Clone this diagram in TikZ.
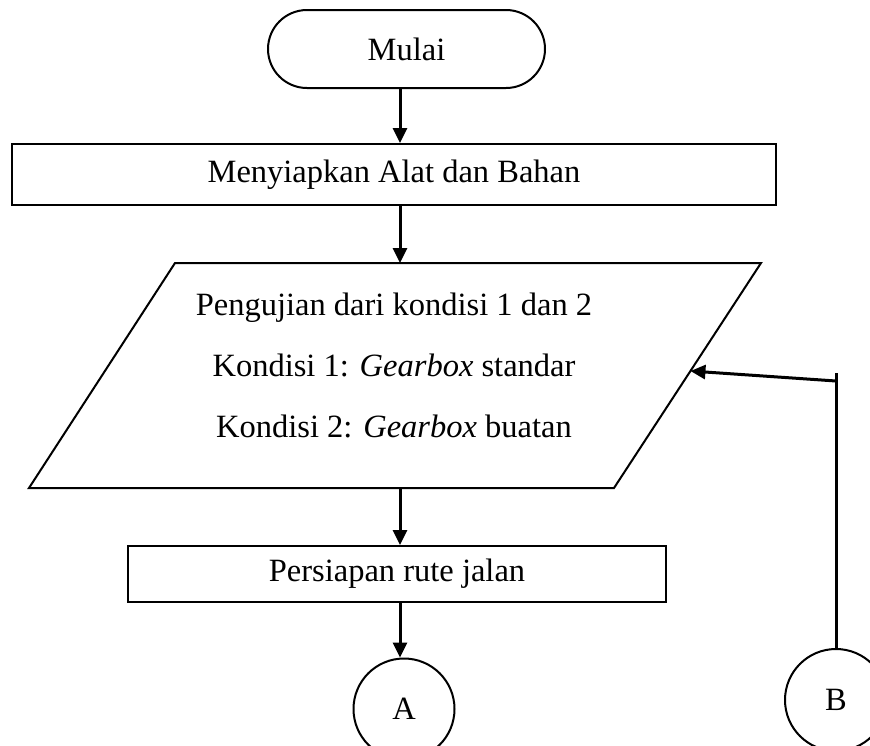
\documentclass[tikz,border=0pt]{standalone}
\usepackage{fontspec}
\setmainfont{Liberation Serif}
\usetikzlibrary{arrows.meta,calc}
\begin{document}
\begin{tikzpicture}[x=1pt,y=-1pt,
  outline/.style={draw=black,line width=2pt},
  procbox/.style={outline,rectangle,inner sep=0pt},
  flow/.style={line width=3pt,-{Triangle[length=15pt,width=14pt]}},
  wire/.style={line width=3pt},
  txt/.style={font=\fontsize{32.5}{61}\selectfont}]
\useasboundingbox (0,0) rectangle (870,745);
\clip (0,0) rectangle (870,745);

% vertical axis of the main flow
\coordinate (spine) at (400,0);

% terminal
\node[procbox,rounded corners=39pt,minimum width=277pt,minimum height=78pt,txt]
  (start) at (406.5,49) {Mulai};

% preparation step
\node[procbox,minimum width=764pt,minimum height=61pt,txt]
  (prep) at (394,174.5) {Menyiapkan Alat dan Bahan};

% input/output parallelogram
\coordinate (tl) at (175,263);
\coordinate (tr) at (761,263);
\coordinate (br) at (614,488);
\coordinate (bl) at (29,488);
\draw[outline,line join=miter] (tl) -- (tr) -- (br) -- (bl) -- cycle;
\node[txt,align=center] (testtext) at (394,365)
  {Pengujian dari kondisi 1 dan 2\\
   Kondisi 1: \textit{Gearbox} standar\\
   Kondisi 2: \textit{Gearbox} buatan};

% route preparation
\node[procbox,minimum width=538pt,minimum height=56pt,txt]
  (route) at (397,574) {Persiapan rute jalan};

% off-page connectors
\node[outline,circle,minimum size=101pt,inner sep=0pt,txt] (A) at (404,709) {A};
\node[outline,circle,minimum size=102pt,inner sep=0pt,txt] (B) at (836,700) {B};

% main flow
\draw[flow] (start.south -| spine) -- (prep.north -| spine);
\draw[flow] (prep.south -| spine) -- (tl -| spine);
\draw[flow] (bl -| spine) -- (route.north -| spine);
\draw[flow] (route.south -| spine) -- (A.north -| spine);

% return path from connector B
\coordinate (loopTop) at (836,373);
\coordinate (loopTail) at (836,381);
\coordinate (loopIn) at ($(tr)!0.48!(br)$);
\draw[wire] (B.north) -- (loopTop);
\draw[flow] (loopTail) -- (loopIn);
\end{tikzpicture}
\end{document}
